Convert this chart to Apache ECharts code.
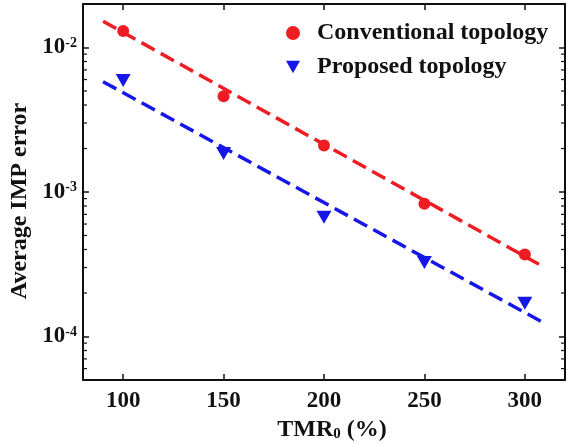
<!DOCTYPE html>
<html>
<head>
<meta charset="utf-8">
<script src="https://cdn.jsdelivr.net/npm/echarts@6/dist/echarts.min.js"></script>
<style>
  html, body { margin: 0; padding: 0; background: #fff; }
  #chart { width: 567px; height: 445px; }
</style>
</head>
<body>
<div id="chart"></div>
<script>
// data
var tmr = [100, 150, 200, 250, 300];
var conventional = [1.3e-2, 4.6e-3, 2.1e-3, 8.3e-4, 3.7e-4];
var proposed = [5.9e-3, 1.85e-3, 6.7e-4, 3.25e-4, 1.7e-4];
// fitted dashed lines (end points)
var fitX = [90, 310];
var conventionalFit = [1.52e-2, 3.0e-4];
var proposedFit = [5.8e-3, 1.23e-4];
// minor log ticks on the y axes
var minorTickValues = [
  6e-5, 7e-5, 8e-5, 9e-5,
  2e-4, 3e-4, 4e-4, 5e-4, 6e-4, 7e-4, 8e-4, 9e-4,
  2e-3, 3e-3, 4e-3, 5e-3, 6e-3, 7e-3, 8e-3, 9e-3
];
var xMin = 80, xMax = 320;

var font = "'Liberation Serif', 'Times New Roman', serif";
var red = '#ee1d23';
var blue = '#1616e8';
var ink = '#111';

function pairs(xs, ys) {
  return xs.map(function (x, i) { return [x, ys[i]]; });
}

function powLabel(v) {
  var e = Math.log10(v);
  if (Math.abs(e - Math.round(e)) > 1e-6) return '';
  return '{b|10}{e|' + Math.round(e) + '}';
}

function minorSeries(x, dx) {
  return {
    type: 'scatter',
    data: minorTickValues.map(function (v) { return [x, v]; }),
    symbol: 'rect',
    symbolSize: [4, 1.2],
    symbolOffset: [dx, 0],
    clip: false,
    silent: true,
    itemStyle: { color: ink, opacity: 1 },
    z: 4
  };
}

var axisLine = { show: true, onZero: false, lineStyle: { color: ink, width: 2 } };
var tick = { show: true, inside: true, length: 6, lineStyle: { color: ink, width: 1.5 } };

var chart = echarts.init(document.getElementById('chart'));
chart.setOption({
  backgroundColor: '#fff',
  animation: false,
  grid: { left: 83, right: 2, top: 4, bottom: 65, outerBoundsMode: 'none', containLabel: false },
  legend: {
    orient: 'vertical',
    left: 281,
    top: 16,
    itemWidth: 14,
    itemHeight: 14,
    itemGap: 10,
    data: ['Conventional topology', 'Proposed topology'],
    textStyle: { fontFamily: font, fontWeight: 'bold', fontSize: 24, color: ink, padding: [0, 0, 0, 12] }
  },
  xAxis: [{
    type: 'value',
    min: xMin,
    max: xMax,
    position: 'bottom',
    axisLine: axisLine,
    axisTick: tick,
    splitLine: { show: false },
    axisLabel: {
      showMinLabel: false, showMaxLabel: false,
      margin: 10, fontFamily: font, fontWeight: 'bold', fontSize: 23, color: ink
    },
    name: '{m|TMR}{s|0}{m| (%)}',
    nameLocation: 'middle',
    nameGap: 38,
    nameTextStyle: {
      padding: [0, 0, 0, 16],
      rich: {
        m: { fontFamily: font, fontWeight: 'bold', fontSize: 24, color: ink },
        s: { fontFamily: font, fontWeight: 'bold', fontSize: 15, color: ink, verticalAlign: 'bottom' }
      }
    }
  }, {
    type: 'value',
    min: xMin,
    max: xMax,
    position: 'top',
    axisLine: axisLine,
    axisTick: tick,
    splitLine: { show: false },
    axisLabel: { show: false }
  }],
  yAxis: [{
    type: 'log',
    logBase: 10,
    min: 5e-5,
    max: 2e-2,
    position: 'left',
    axisLine: axisLine,
    axisTick: tick,
    splitLine: { show: false },
    axisLabel: {
      showMinLabel: false, showMaxLabel: false,
      margin: 6,
      formatter: powLabel,
      rich: {
        b: { fontFamily: font, fontWeight: 'bold', fontSize: 23, color: ink },
        e: { fontFamily: font, fontWeight: 'bold', fontSize: 14, color: ink, verticalAlign: 'top', lineHeight: 14 }
      }
    },
    name: 'Average IMP error',
    nameLocation: 'middle',
    nameGap: 50,
    nameTextStyle: { fontFamily: font, fontWeight: 'bold', fontSize: 24, color: ink, padding: [0, 18, 0, 0] }
  }, {
    type: 'log',
    logBase: 10,
    min: 5e-5,
    max: 2e-2,
    position: 'right',
    axisLine: axisLine,
    axisTick: tick,
    splitLine: { show: false },
    axisLabel: { show: false }
  }],
  series: [{
    name: 'conventional fit',
    type: 'line',
    data: pairs(fitX, conventionalFit),
    symbol: 'none',
    silent: true,
    lineStyle: { color: red, width: 3.5, type: [15, 7] },
    z: 2
  }, {
    name: 'proposed fit',
    type: 'line',
    data: pairs(fitX, proposedFit),
    symbol: 'none',
    silent: true,
    lineStyle: { color: blue, width: 3.5, type: [15, 7] },
    z: 2
  }, {
    name: 'Conventional topology',
    type: 'scatter',
    data: pairs(tmr, conventional),
    symbol: 'circle',
    symbolSize: 12,
    itemStyle: { color: red, opacity: 1 },
    z: 3
  }, {
    name: 'Proposed topology',
    type: 'scatter',
    data: pairs(tmr, proposed),
    symbol: 'path://M0,0L10,0L5,9Z',
    symbolSize: [15, 13],
    itemStyle: { color: blue, opacity: 1 },
    z: 3
  },
  minorSeries(xMin, 2),
  minorSeries(xMax, -2)]
});
</script>
</body>
</html>
